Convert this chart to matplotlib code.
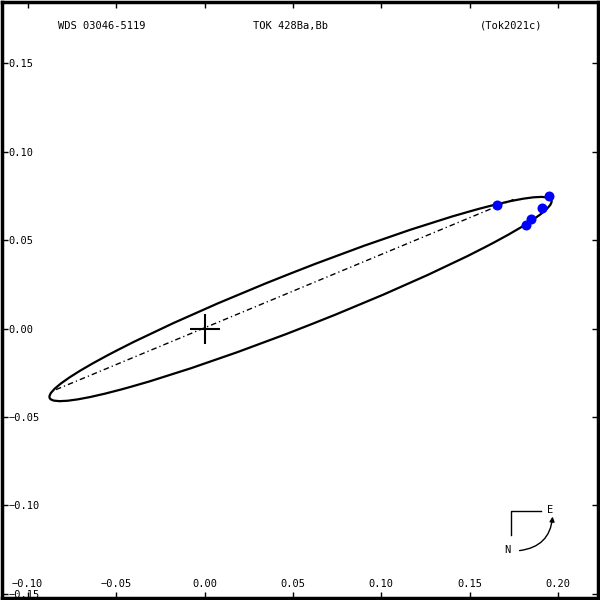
import matplotlib
matplotlib.use('Agg')
import matplotlib.pyplot as plt
from matplotlib.patches import Ellipse
from matplotlib.ticker import FuncFormatter
import numpy as np

# header texts
wds_name = 'WDS 03046-5119'
disc_name = 'TOK 428Ba,Bb'
ref_name = '(Tok2021c)'

# orbit ellipse (centre, full axes, tilt in degrees)
orbit_center = (0.0543, 0.0167)
orbit_major = 0.305
orbit_minor = 0.031
orbit_angle = 21.5

# line of nodes end points
nodes_x = [-0.0840, 0.1748]
nodes_y = [-0.0345, 0.0730]

# measured positions
obs_x = [0.1652, 0.1946, 0.1906, 0.1844, 0.1816]
obs_y = [0.0701, 0.0747, 0.0679, 0.0617, 0.0588]

xticks = [-0.10, -0.05, 0.00, 0.05, 0.10, 0.15, 0.20]
yticks = [-0.15, -0.10, -0.05, 0.00, 0.05, 0.10, 0.15]

fig = plt.figure(figsize=(6, 6), dpi=100)
ax = fig.add_axes([0.004, 0.004, 0.992, 0.992])
ax.set_xlim(-0.1143, 0.2223)
ax.set_ylim(-0.1521, 0.1844)

font = dict(family='DejaVu Sans Mono', size=7.5)

ell = Ellipse(orbit_center, orbit_major, orbit_minor, angle=orbit_angle,
              fill=False, edgecolor='black', linewidth=1.6)
ax.add_patch(ell)

ax.plot(nodes_x, nodes_y, color='black', linewidth=1.0,
        dashes=[4, 2.2, 0.9, 2.2])

ax.plot(obs_x, obs_y, 'o', color='#0000ff', markersize=7.2, markeredgewidth=0)

# primary star
ax.plot([0], [0], '+', color='black', markersize=22, markeredgewidth=1.5)

def fmt(v, pos):
    s = f'{v:.2f}'
    if s == '-0.00':
        s = '0.00'
    return s.replace('-', '\u2212')

ax.set_xticks(xticks)
ax.set_yticks(yticks)
ax.xaxis.set_major_formatter(FuncFormatter(fmt))
ax.yaxis.set_major_formatter(FuncFormatter(fmt))
ax.tick_params(direction='in', length=4, width=1, top=True, right=True,
               labelsize=7.5)
ax.tick_params(axis='y', pad=-4.5)
ax.tick_params(axis='x', pad=-6.5)
for lab in ax.get_yticklabels():
    lab.set_horizontalalignment('left')
    lab.set_family('DejaVu Sans Mono')
for lab in ax.get_xticklabels():
    lab.set_verticalalignment('bottom')
    lab.set_family('DejaVu Sans Mono')

for sp in ax.spines.values():
    sp.set_linewidth(2.5)

ax.text(0.1664, 0.961, wds_name, transform=ax.transAxes, ha='center', va='center', **font)
ax.text(0.484, 0.961, disc_name, transform=ax.transAxes, ha='center', va='center', **font)
ax.text(0.854, 0.961, ref_name, transform=ax.transAxes, ha='center', va='center', **font)

# compass
def fx(px):
    return (px - 2) / 595.0

def fy(py):
    return 1 - (py - 2) / 595.0

ax.plot([fx(540), fx(510), fx(510)], [fy(510), fy(510), fy(534)],
        color='black', linewidth=1, transform=ax.transAxes)
ax.text(fx(550), fy(509), 'E', transform=ax.transAxes, ha='center', va='center', **font)
ax.text(fx(507), fy(549), 'N', transform=ax.transAxes, ha='center', va='center', **font)
ax.annotate('', xy=(fx(552), fy(516)), xytext=(fx(519), fy(550)),
            xycoords='axes fraction', textcoords='axes fraction',
            arrowprops=dict(arrowstyle='-|>', color='black', lw=1,
                            mutation_scale=7, shrinkA=0, shrinkB=0,
                            connectionstyle='arc3,rad=0.4'))

fig.savefig('out.png', dpi=100)
